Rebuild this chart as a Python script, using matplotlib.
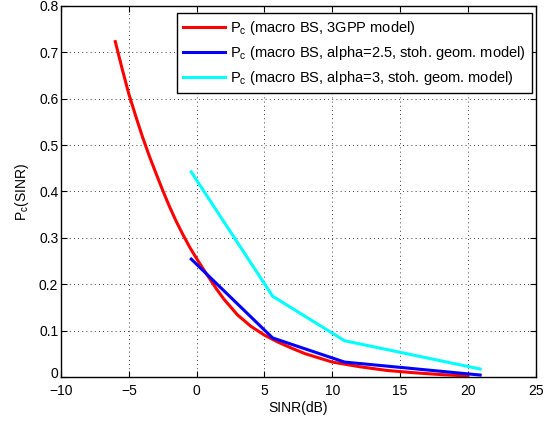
import matplotlib
matplotlib.use('Agg')
import matplotlib.pyplot as plt
from matplotlib.transforms import ScaledTranslation

plt.rcParams['font.family'] = ['Liberation Sans', 'DejaVu Sans']
plt.rcParams['mathtext.fontset'] = 'custom'
plt.rcParams['mathtext.rm'] = 'Liberation Sans'

# red curve: 3GPP model
sinr_3gpp = [-6, -5.5, -5, -4.5, -4, -3.5, -3, -2.5, -2, -1.5, -1, -0.5, 0,
             0.5, 1, 1.5, 2, 3, 4, 5, 6, 7, 8, 10, 12, 14, 16, 18, 20]
pc_3gpp = [0.723, 0.665, 0.61, 0.563, 0.518, 0.477, 0.439, 0.402, 0.367, 0.335,
           0.306, 0.279, 0.255, 0.232, 0.21, 0.188, 0.168, 0.134, 0.109, 0.09,
           0.075, 0.062, 0.05, 0.032, 0.022, 0.014, 0.009, 0.005, 0.002]

# stochastic geometry model points
sinr_sg = [-0.4, 5.6, 10.9, 20.9]
pc_alpha25 = [0.254, 0.084, 0.032, 0.004]
pc_alpha3 = [0.442, 0.174, 0.078, 0.017]

fig = plt.figure(figsize=(5.45, 4.23), dpi=100)
ax = fig.add_axes([0.112, 0.109, 0.871, 0.877])

ax.plot(sinr_3gpp, pc_3gpp, color='red', lw=2.2,
        label=r'$\mathregular{P_c}$ (macro BS, 3GPP model)')
ax.plot(sinr_sg, pc_alpha25, color='blue', lw=2.2,
        label=r'$\mathregular{P_c}$ (macro BS, alpha=2.5, stoh. geom. model)')
ax.plot(sinr_sg, pc_alpha3, color='cyan', lw=2.2,
        label=r'$\mathregular{P_c}$ (macro BS, alpha=3, stoh. geom. model)')

ax.set_xlim(-10, 25)
ax.set_ylim(0, 0.8)
ax.set_xticks(range(-10, 26, 5))
ax.set_xticklabels(['\u221210', '\u22125', '0', '5', '10', '15', '20', '25'])
ax.set_yticks([0, 0.1, 0.2, 0.3, 0.4, 0.5, 0.6, 0.7, 0.8])
ax.set_yticklabels(['0', '0.1', '0.2', '0.3', '0.4', '0.5', '0.6', '0.7', '0.8'])
ax.tick_params(direction='in', top=True, right=True, labelsize=10, length=4)
ax.tick_params(axis='x', pad=5)
ax.tick_params(axis='y', pad=2)
ax.grid(True, color='black', linestyle=(0, (1, 4)), lw=0.6)
for sp in ax.spines.values():
    sp.set_linewidth(1.0)

# nudge the y "0" label up a little so it clears the "-10" below it
lab0 = ax.get_yticklabels()[0]
lab0.set_transform(lab0.get_transform() + ScaledTranslation(0, 3 / 72, fig.dpi_scale_trans))

ax.set_xlabel('SINR(dB)', fontsize=10, labelpad=2)
ax.set_ylabel(r'$\mathregular{P_c}$(SINR)', fontsize=10, labelpad=6)

leg = ax.legend(loc='upper right', bbox_to_anchor=(0.992, 0.981), fontsize=10.5,
                fancybox=False, edgecolor='black', framealpha=1,
                borderaxespad=0, handlelength=2.9, labelspacing=0.5,
                handletextpad=0.35, borderpad=0.4)
leg.get_frame().set_linewidth(1.0)

fig.savefig('out.png', dpi=100)
